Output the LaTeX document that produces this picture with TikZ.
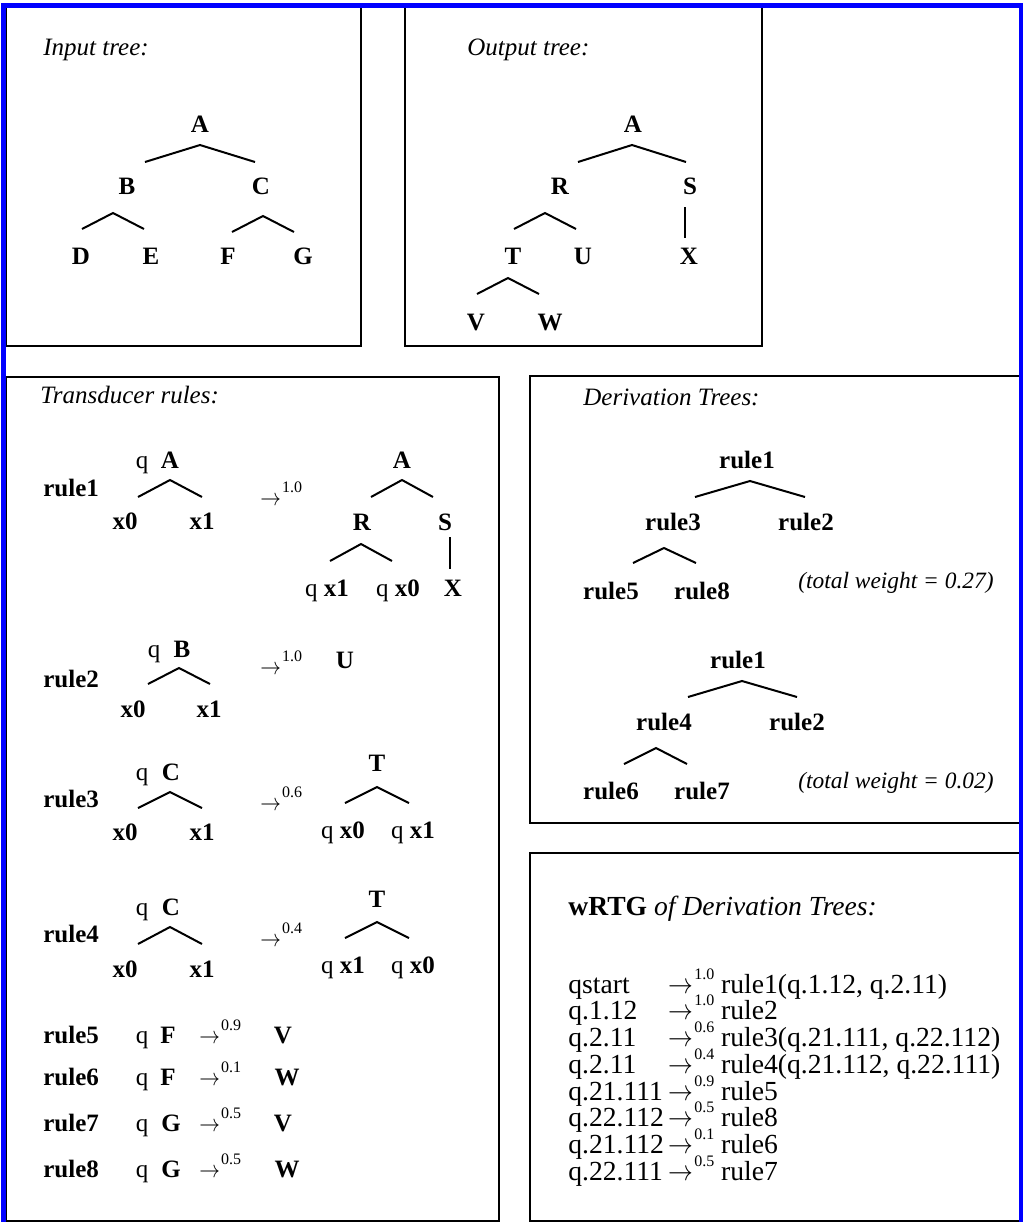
\documentclass[tikz,border=0pt]{standalone}
\usepackage{fontspec}
\setmainfont{Liberation Serif}
\newcommand{\supsize}{\fontsize{8}{9}\selectfont}
\newcommand{\suplift}{6.5pt}
\newcommand{\yields}[1]{\scalebox{0.86}[1]{$\rightarrow$}\kern0.5pt\raisebox{\suplift}[0pt][0pt]{\supsize #1}}
\begin{document}
\fontsize{12.5}{14}\selectfont
\begin{tikzpicture}[x=0.5pt, y=-0.5pt]
        \tikzstyle{sym}=[inner sep=0pt, anchor=base, font=\bfseries]
        \tikzstyle{plain}=[inner sep=0pt, anchor=base]
        \tikzstyle{lbl}=[inner sep=0pt, anchor=base west]
        \tikzstyle{weight}=[inner sep=0pt, anchor=base west, font=\fontsize{11.7}{14}\selectfont\itshape]
        \tikzstyle{arm}=[line width=1pt]
        \tikzstyle{panel}=[line width=1pt]
        \useasboundingbox (0,0) rectangle (1023,1222);
        % Panels
        \draw[panel] (6,7) rectangle (361,346);
        \draw[panel] (405,7) rectangle (762,346);
        \draw[panel] (6,377) rectangle (499,1221);
        \draw[panel] (530,376) rectangle (1020,823);
        \draw[panel] (530,853) rectangle (1020,1221);
        \draw[blue, line width=2.5pt] (3,5) rectangle (1021,1224);
        % Input tree
        \node[lbl, font=\itshape] (intitle) at (43,55) {Input tree:};
        \node[sym] (iA) at (200,132) {A};
        \node[sym] (iB) at (127,194) {B};
        \node[sym] (iC) at (261,194) {C};
        \node[sym] (iD) at (81,264) {D};
        \node[sym] (iE) at (151,264) {E};
        \node[sym] (iF) at (228,264) {F};
        \node[sym] (iG) at (303,264) {G};
        \draw[arm] (iA.base) ++(-55,30) -- ++(55,-17) -- ++(55,17);
        \draw[arm] (iB.base) ++(-45,35) -- ++(31,-16) -- ++(31,16);
        \draw[arm] (iC.base) ++(-29,38) -- ++(31,-16) -- ++(31,16);
        % Output tree
        \node[lbl, font=\itshape] (outtitle) at (467,55) {Output tree:};
        \node[sym] (oA) at (633,132) {A};
        \node[sym] (oR) at (560,194) {R};
        \node[sym] (oS) at (690,194) {S};
        \node[sym] (oT) at (513,264) {T};
        \node[sym] (oU) at (583,264) {U};
        \node[sym] (oX) at (689,264) {X};
        \node[sym] (oV) at (476,330) {V};
        \node[sym] (oW) at (550,330) {W};
        \draw[arm] (oA.base) ++(-55,30) -- ++(54,-17) -- ++(54,17);
        \draw[arm] (oR.base) ++(-46,35) -- ++(31,-16) -- ++(31,16);
        \draw[arm] (oS.base) ++(-5,13) -- ++(0,31);
        \draw[arm] (oT.base) ++(-36,30) -- ++(31,-16) -- ++(31,16);
        % Transducer rules
        \node[lbl, font=\itshape] (rulestitle) at (40,403) {Transducer rules:};
        % rule1
        \node[lbl, font=\bfseries] (rule1) at (43,496) {rule1};
        \node[plain] (r1q) at (142,468) {q};
        \node[sym] (r1A) at (170,468) {A};
        \node[sym] (r1x0) at (125,529) {x0};
        \node[sym] (r1x1) at (202,529) {x1};
        \draw[arm] (r1A.base) ++(-32,29) -- ++(32,-17) -- ++(32,17);
        \node[lbl] (r1w) at (260,505) {\yields{1.0}};
        \node[sym] (r1oA) at (402,468) {A};
        \node[sym] (r1R) at (362,530) {R};
        \node[sym] (r1S) at (445,530) {S};
        \node[plain] (r1qx1) at (327,596) {q \textbf{x1}};
        \node[plain] (r1qx0) at (398,596) {q \textbf{x0}};
        \node[sym] (r1X) at (453,596) {X};
        \draw[arm] (r1oA.base) ++(-31,29) -- ++(31,-17) -- ++(31,17);
        \draw[arm] (r1R.base) ++(-32,31) -- ++(31,-17) -- ++(31,17);
        \draw[arm] (r1S.base) ++(5,7) -- ++(0,32);
        % rule2
        \node[lbl, font=\bfseries] (rule2) at (43,687) {rule2};
        \node[plain] (r2q) at (154,657) {q};
        \node[sym] (r2B) at (182,657) {B};
        \node[sym] (r2x0) at (133,717) {x0};
        \node[sym] (r2x1) at (209,717) {x1};
        \draw[arm] (r2B.base) ++(-34,27) -- ++(31,-16) -- ++(31,16);
        \node[lbl] (r2w) at (260,674) {\yields{1.0}};
        \node[sym] (r2U) at (345,668) {U};
        % rule3
        \node[lbl, font=\bfseries] (rule3) at (43,807) {rule3};
        \node[plain] (r3q) at (142,780) {q};
        \node[sym] (r3C) at (171,780) {C};
        \node[sym] (r3x0) at (125,840) {x0};
        \node[sym] (r3x1) at (202,840) {x1};
        \draw[arm] (r3C.base) ++(-33,28) -- ++(32,-16) -- ++(32,16);
        \node[lbl] (r3w) at (260,810) {\yields{0.6}};
        \node[sym] (r3T) at (377,771) {T};
        \node[plain] (r3qx0) at (343,838) {q \textbf{x0}};
        \node[plain] (r3qx1) at (413,838) {q \textbf{x1}};
        \draw[arm] (r3T.base) ++(-32,32) -- ++(32,-16) -- ++(32,16);
        % rule4
        \node[lbl, font=\bfseries] (rule4) at (43,942) {rule4};
        \node[plain] (r4q) at (142,915) {q};
        \node[sym] (r4C) at (171,915) {C};
        \node[sym] (r4x0) at (125,977) {x0};
        \node[sym] (r4x1) at (202,977) {x1};
        \draw[arm] (r4C.base) ++(-33,29) -- ++(32,-17) -- ++(32,17);
        \node[lbl] (r4w) at (260,946) {\yields{0.4}};
        \node[sym] (r4T) at (377,907) {T};
        \node[plain] (r4qx1) at (343,973) {q \textbf{x1}};
        \node[plain] (r4qx0) at (413,973) {q \textbf{x0}};
        \draw[arm] (r4T.base) ++(-32,31) -- ++(32,-16) -- ++(32,16);
        % rule5 - rule8
        \node[lbl, font=\bfseries] (rule5) at (43,1043) {rule5};
        \node[plain] (r5q) at (142,1043) {q};
        \node[sym] (r5F) at (168,1043) {F};
        \node[lbl] (r5w) at (199,1043) {\yields{0.9}};
        \node[sym] (r5V) at (283,1043) {V};
        \node[lbl, font=\bfseries] (rule6) at (43,1085) {rule6};
        \node[plain] (r6q) at (142,1085) {q};
        \node[sym] (r6F) at (168,1085) {F};
        \node[lbl] (r6w) at (199,1085) {\yields{0.1}};
        \node[sym] (r6W) at (287,1085) {W};
        \node[lbl, font=\bfseries] (rule7) at (43,1131) {rule7};
        \node[plain] (r7q) at (142,1131) {q};
        \node[sym] (r7G) at (171,1131) {G};
        \node[lbl] (r7w) at (199,1131) {\yields{0.5}};
        \node[sym] (r7V) at (283,1131) {V};
        \node[lbl, font=\bfseries] (rule8) at (43,1177) {rule8};
        \node[plain] (r8q) at (142,1177) {q};
        \node[sym] (r8G) at (171,1177) {G};
        \node[lbl] (r8w) at (199,1177) {\yields{0.5}};
        \node[sym] (r8W) at (287,1177) {W};
        % Derivation trees
        \node[lbl, font=\itshape] (derivtitle) at (583,405) {Derivation Trees:};
        \node[sym] (d1) at (747,468) {rule1};
        \node[sym] (d3) at (673,530) {rule3};
        \node[sym] (d2) at (806,530) {rule2};
        \node[sym] (d5) at (611,599) {rule5};
        \node[sym] (d8) at (702,599) {rule8};
        \draw[arm] (d1.base) ++(-52,29) -- ++(55,-16) -- ++(55,16);
        \draw[arm] (d3.base) ++(-40,33) -- ++(31,-15) -- ++(32,15);
        \node[weight] (weight1) at (798,588) {(total weight = 0.27)};
        \node[sym] (e1) at (738,668) {rule1};
        \node[sym] (e4) at (664,730) {rule4};
        \node[sym] (e2) at (797,730) {rule2};
        \node[sym] (e6) at (611,799) {rule6};
        \node[sym] (e7) at (702,799) {rule7};
        \draw[arm] (e1.base) ++(-50,29) -- ++(54,-16) -- ++(55,16);
        \draw[arm] (e4.base) ++(-40,34) -- ++(32,-16) -- ++(31,16);
        \node[weight] (weight2) at (798,788) {(total weight = 0.02)};
        % wRTG
        \node[lbl, font=\fontsize{13.8}{14}\selectfont] (rtgtitle) at (568,915) {\textbf{wRTG} \textit{of Derivation Trees:}};
        \node[lbl] (rtg) at (568,993) {\fontsize{13.8}{12.7}\selectfont
        \renewcommand{\supsize}{\fontsize{8}{9}\selectfont}\renewcommand{\suplift}{7pt}%
        \begin{tabular}[t]{@{}l@{\,}l@{\ }l@{}}
        qstart & \yields{1.0} & rule1(q.1.12, q.2.11)\\
        q.1.12 & \yields{1.0} & rule2\\
        q.2.11 & \yields{0.6} & rule3(q.21.111, q.22.112)\\
        q.2.11 & \yields{0.4} & rule4(q.21.112, q.22.111)\\
        q.21.111 & \yields{0.9} & rule5\\
        q.22.112 & \yields{0.5} & rule8\\
        q.21.112 & \yields{0.1} & rule6\\
        q.22.111 & \yields{0.5} & rule7
        \end{tabular}};
\end{tikzpicture}
\end{document}
